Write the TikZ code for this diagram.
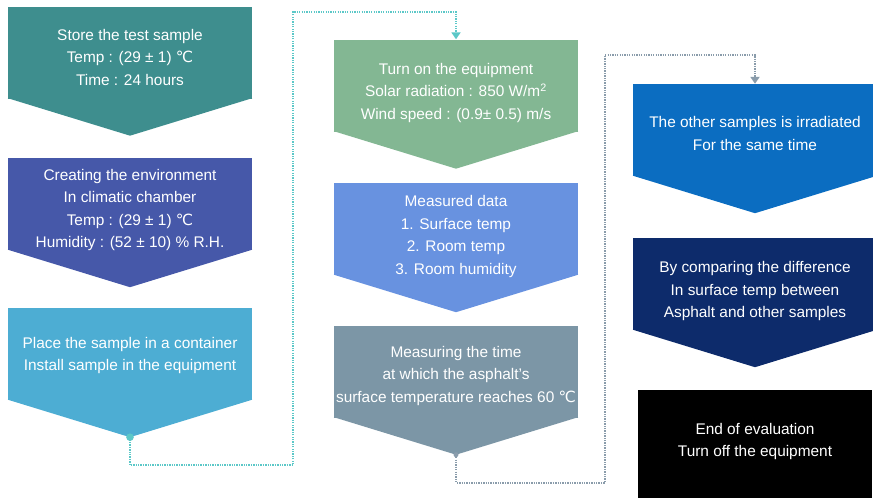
\documentclass[tikz,border=0pt]{standalone}
\usepackage{fontspec}
\setmainfont{Liberation Sans}
\newfontfamily\symfont{DejaVu Sans}
\newcommand{\degc}{{\symfont ℃}}
% text block of a box, lowered a little inside it
\newcommand{\boxtext}[2][5pt]{\raisebox{-#1}[\height][\depth]{\begin{tabular}{@{}c@{}}#2\end{tabular}}}
\usetikzlibrary{arrows.meta, calc}

\definecolor{storecol}{HTML}{3E8E8E}
\definecolor{envcol}{HTML}{4658A9}
\definecolor{placecol}{HTML}{4DADD3}
\definecolor{turnoncol}{HTML}{83B793}
\definecolor{measuredcol}{HTML}{6892E0}
\definecolor{measuringcol}{HTML}{7C96A6}
\definecolor{othercol}{HTML}{0B6DC1}
\definecolor{comparecol}{HTML}{0D2B6B}
\definecolor{tealline}{HTML}{5CC8C8}
\definecolor{grayline}{HTML}{8A9CAB}

\begin{document}
\begin{tikzpicture}[
    x=1pt, y=-1pt,
    stepbox/.style={rectangle, fill=#1, text=white, minimum width=244pt,
                    minimum height=92pt, inner sep=0pt,
                    font=\fontsize{15.4}{22.5}\selectfont,
                    append after command={\pgfextra{
                      \fill[#1] ([yshift=0.5pt]\tikzlastnode.south west)
                        -- ([yshift=0.5pt]\tikzlastnode.south east)
                        -- ([yshift=-37pt]\tikzlastnode.south) -- cycle;}}},
    endbox/.style={rectangle, fill=black, text=white, minimum width=234pt,
                   minimum height=108pt, inner sep=0pt,
                   font=\fontsize{15.4}{22.5}\selectfont},
    link/.style={#1, line width=1.9pt, dash pattern=on 1.3pt off 1.1pt,
                 -{Triangle[width=9pt, length=7pt]}},
]

\useasboundingbox (0,0) rectangle (873,498);
\clip (0,0) rectangle (873,498);

% --- Preparation ---
\node[stepbox=storecol] (store) at (130,52.5)
    {\boxtext[5.5pt]{Store the test sample\\Temp : (29 ± 1) \degc\\Time : 24 hours}};
\node[stepbox=envcol] (env) at (130,204)
    {\boxtext[5.5pt]{Creating the environment\\In climatic chamber\\Temp : (29 ± 1) \degc\\Humidity : (52 ± 10) \% R.H.}};
\node[stepbox=placecol] (place) at (130,354)
    {\boxtext[1pt]{Place the sample in a container\\Install sample in the equipment}};

% --- Measurement ---
\node[stepbox=turnoncol] (turnon) at (456,85.5)
    {\boxtext[6.5pt]{Turn on the equipment\\Solar radiation : 850 W/m\textsuperscript{2}\\Wind speed : (0.9± 0.5) m/s}};
\node[stepbox=measuredcol] (measured) at (456,229)
    {\boxtext[7pt]{Measured data\\1. Surface temp\\2. Room temp\\3. Room humidity}};
\node[stepbox=measuringcol] (measuring) at (456,371.5)
    {\boxtext[3.5pt]{Measuring the time\\at which the asphalt's\\surface temperature reaches 60 \degc}};

% --- Evaluation ---
\node[stepbox=othercol] (other) at (755,130)
    {\boxtext[4.5pt]{The other samples is irradiated\\For the same time}};
\node[stepbox=comparecol] (compare) at (755,284)
    {\boxtext[6.5pt]{By comparing the difference\\In surface temp between\\Asphalt and other samples}};
\node[endbox] (finish) at (755,444)
    {\boxtext[-3pt]{End of evaluation\\Turn off the equipment}};

% tips of the chevrons
\coordinate (placetip) at ($(place.south)+(0,37)$);
\coordinate (measuringtip) at ($(measuring.south)+(0,37)$);

% --- Arrows ---
\draw[link=tealline] (placetip) -- ++(0,28) -| (293,12) -| (turnon.north);
\fill[tealline] (placetip) circle (3.8pt);

\draw[link=grayline] (measuringtip) -- ++(0,28) -| (605,55) -| (other.north);
\fill[grayline] (measuringtip) circle (2.5pt);

\end{tikzpicture}
\end{document}
